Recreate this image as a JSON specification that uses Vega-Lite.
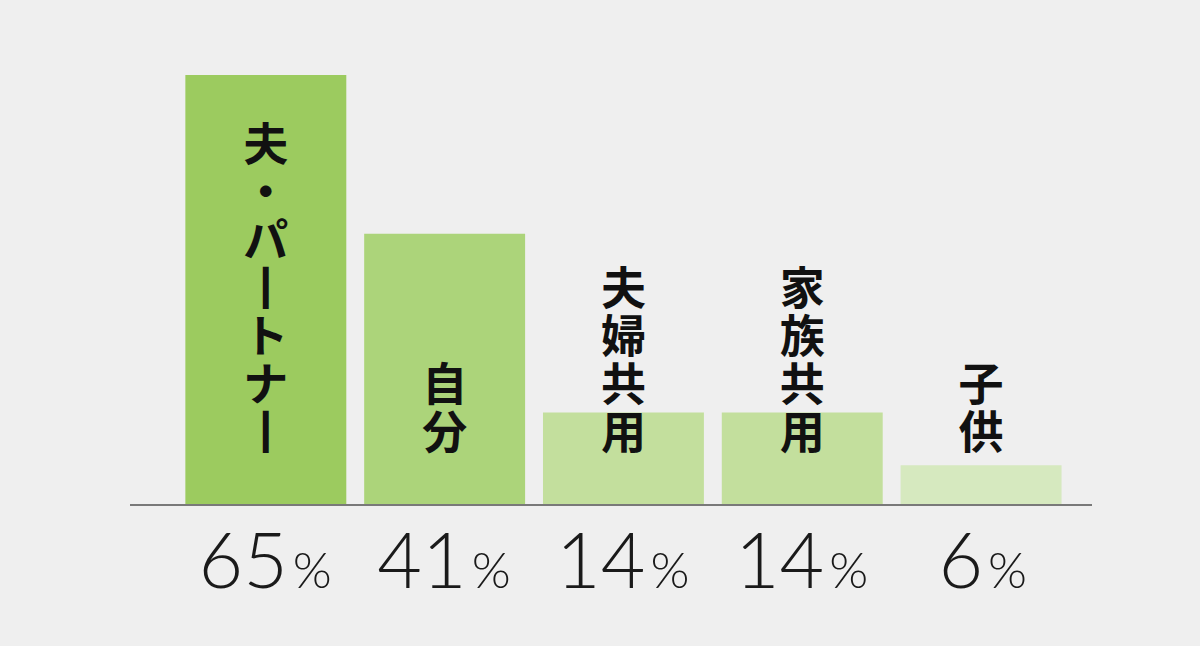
{
  "$schema": "https://vega.github.io/schema/vega-lite/v6.json",
  "width": 962,
  "height": 463,
  "autosize": {"type": "none"},
  "padding": {"left": 130, "top": 42, "right": 108, "bottom": 141},
  "background": "#efefef",
  "config": {
    "view": {"stroke": null},
    "font": "Noto Sans CJK JP",
    "text": {"baseline": "alphabetic"}
  },
  "data": {
    "values": [
      {"cat": "夫・パートナー", "label": "夫\n・\nパ\n丨\nト\nナ\n丨", "lines": 7, "pct": 65},
      {"cat": "自分", "label": "自\n分", "lines": 2, "pct": 41},
      {"cat": "夫婦共用", "label": "夫\n婦\n共\n用", "lines": 4, "pct": 14},
      {"cat": "家族共用", "label": "家\n族\n共\n用", "lines": 4, "pct": 14},
      {"cat": "子供", "label": "子\n供", "lines": 2, "pct": 6}
    ]
  },
  "encoding": {
    "x": {
      "field": "cat",
      "type": "nominal",
      "sort": null,
      "axis": null,
      "scale": {"paddingInner": 0.1, "paddingOuter": 0.24, "align": 0.645}
    }
  },
  "layer": [
    {
      "mark": {"type": "bar"},
      "encoding": {
        "y": {"field": "pct", "type": "quantitative", "axis": null, "scale": {"domain": [0, 70]}},
        "color": {
          "field": "cat",
          "type": "nominal",
          "legend": null,
          "scale": {
            "domain": ["夫・パートナー", "自分", "夫婦共用", "家族共用", "子供"],
            "range": ["#9ccb5f", "#acd47a", "#c3df9d", "#c3df9d", "#d6e9bf"]
          }
        }
      }
    },
    {
      "mark": {"type": "rule", "stroke": "#7a7a7a", "strokeWidth": 1.5},
      "encoding": {"y": {"datum": 0}, "x": {"value": 0}, "x2": {"value": 962}}
    },
    {
      "transform": [{"filter": "datum.lines == 7"}],
      "mark": {"type": "text", "lineBreak": "\n", "fontWeight": "bold", "fontSize": 45, "lineHeight": 48, "color": "#111111"},
      "encoding": {"y": {"datum": 52.0}, "text": {"field": "label"}}
    },
    {
      "transform": [{"filter": "datum.lines == 4"}],
      "mark": {"type": "text", "lineBreak": "\n", "fontWeight": "bold", "fontSize": 45, "lineHeight": 48, "color": "#111111"},
      "encoding": {"y": {"datum": 30.2}, "text": {"field": "label"}}
    },
    {
      "transform": [{"filter": "datum.lines == 2"}],
      "mark": {"type": "text", "lineBreak": "\n", "fontWeight": "bold", "fontSize": 45, "lineHeight": 48, "color": "#111111"},
      "encoding": {"y": {"datum": 15.7}, "text": {"field": "label"}}
    },
    {
      "transform": [{"filter": "datum.pct >= 10"}],
      "mark": {"type": "text", "align": "right", "dx": 22, "font": "Lato", "fontWeight": 300, "fontSize": 77, "color": "#1a1a1a"},
      "encoding": {"y": {"datum": -12.6}, "text": {"field": "pct"}}
    },
    {
      "transform": [{"filter": "datum.pct >= 10"}],
      "mark": {"type": "text", "align": "left", "dx": 27, "font": "Lato", "fontWeight": 300, "fontSize": 50, "color": "#1a1a1a", "text": "%"},
      "encoding": {"y": {"datum": -12.6}}
    },
    {
      "transform": [{"filter": "datum.pct < 10"}],
      "mark": {"type": "text", "align": "right", "dx": 2, "font": "Lato", "fontWeight": 300, "fontSize": 77, "color": "#1a1a1a"},
      "encoding": {"y": {"datum": -12.6}, "text": {"field": "pct"}}
    },
    {
      "transform": [{"filter": "datum.pct < 10"}],
      "mark": {"type": "text", "align": "left", "dx": 7, "font": "Lato", "fontWeight": 300, "fontSize": 50, "color": "#1a1a1a", "text": "%"},
      "encoding": {"y": {"datum": -12.6}}
    }
  ]
}
